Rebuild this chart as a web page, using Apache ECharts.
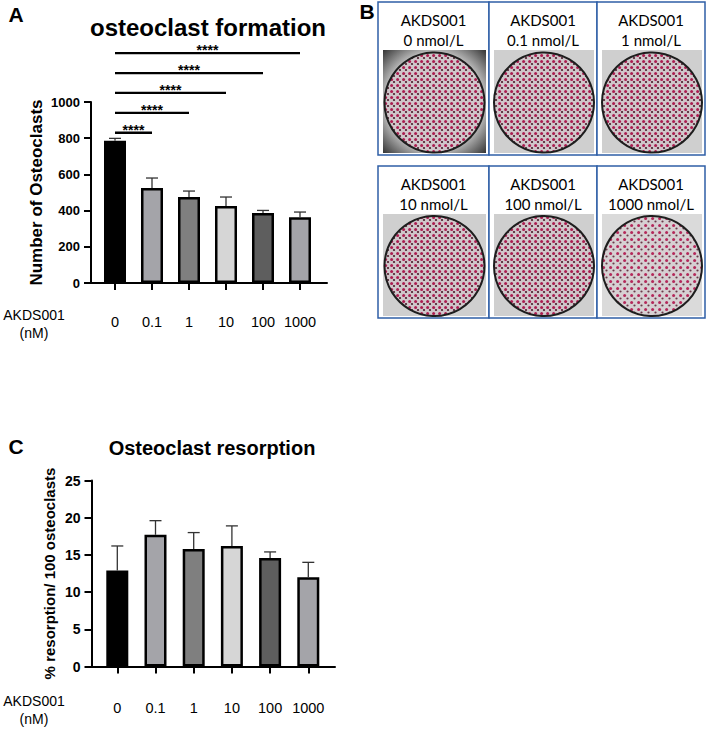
<!DOCTYPE html>
<html>
<head>
    <meta charset="utf-8">
    <title>AKDS001 osteoclasts</title>
    <script src="https://cdn.jsdelivr.net/npm/echarts@6/dist/echarts.min.js"></script>
    <style>
        body { margin: 0; background: #fff; }
    </style>
</head>
<body>
    <div id="main" style="width: 706px;height:729px;"></div>
    <script type="text/javascript">
        // doses on the x axis (nM)
        let doseLabels = ['0', '0.1', '1', '10', '100', '1000'];
        // panel A: number of osteoclasts, mean and SD (upper whisker only)
        let formationMean = [786, 525, 475, 425, 387, 363];
        let formationErr = [13, 55, 33, 50, 14, 29];
        // panel C: % resorption per 100 osteoclasts
        let resorptionMean = [12.9, 17.7, 15.8, 16.2, 14.6, 12.0];
        let resorptionErr = [3.3, 1.9, 2.2, 2.7, 0.8, 2.0];
        // significance brackets: bar 0 vs bar n, drawn at these heights
        let sigTargets = [1, 2, 3, 4, 5];
        let sigLevels = [830, 940, 1050, 1160, 1270];
        let sigText = '****';
        // panel B well captions
        let wellDoses = ['0 nmol/L', '0.1 nmol/L', '1 nmol/L', '10 nmol/L', '100 nmol/L', '1000 nmol/L'];

        let barColors = ['#000000', '#a4a4a9', '#7f7f7f', '#d6d6d6', '#5e5e5e', '#a4a4a9'];
        let FONT = 'Liberation Sans, Arial, sans-serif';

        let myChart = echarts.init(document.getElementById('main'), null, { renderer: 'svg' });

        function barData(vals) {
            return vals.map(function (v, i) {
                return { value: v, itemStyle: { color: barColors[i] } };
            });
        }

        // whisker going up from the bar top, with a cap
        function renderErr(params, api) {
            let i = api.value(0);
            let base = api.coord([i, api.value(1)]);
            let top = api.coord([i, api.value(1) + api.value(2)]);
            let st = { stroke: '#333', lineWidth: 1.3 };
            return {
                type: 'group',
                children: [
                    { type: 'line', shape: { x1: base[0], y1: base[1], x2: top[0], y2: top[1] }, style: st },
                    { type: 'line', shape: { x1: top[0] - 6, y1: top[1], x2: top[0] + 6, y2: top[1] }, style: st }
                ]
            };
        }

        function renderSig(params, api) {
            let p0 = api.coord([0, api.value(1)]);
            let p1 = api.coord([api.value(0), api.value(1)]);
            return {
                type: 'group',
                children: [
                    { type: 'line', shape: { x1: p0[0], y1: p0[1], x2: p1[0], y2: p1[1] },
                      style: { stroke: '#000', lineWidth: 2.3 } },
                    { type: 'text', style: { text: sigText, x: (p0[0] + p1[0]) / 2, y: p0[1] - 3,
                      align: 'center', verticalAlign: 'middle', fontSize: 14, fontWeight: 'bold',
                      fontFamily: FONT, fill: '#000' } }
                ]
            };
        }

        function catAxis(gridIndex, labelMargin) {
            return {
                type: 'category',
                gridIndex: gridIndex,
                data: doseLabels,
                axisLine: { show: false },
                axisTick: { show: true, alignWithLabel: true, length: 7, lineStyle: { color: '#000', width: 2 } },
                axisLabel: { interval: 0, margin: labelMargin, fontSize: 14.5, color: '#000', fontFamily: FONT }
            };
        }

        function lineAxis(gridIndex) {
            return {
                type: 'value', gridIndex: gridIndex, min: 0, max: 1,
                axisLine: { show: true, onZero: false, lineStyle: { color: '#000', width: 2 } },
                axisTick: { show: false }, axisLabel: { show: false }, splitLine: { show: false }
            };
        }

        function valAxis(gridIndex, max, interval, offset, name, nameSize, nameGap, labelSize) {
            return {
                type: 'value', gridIndex: gridIndex, min: 0, max: max, interval: interval, offset: offset,
                name: name, nameLocation: 'middle', nameGap: nameGap,
                nameTextStyle: { fontSize: nameSize, fontWeight: 'bold', color: '#000', fontFamily: FONT },
                axisLine: { show: true, lineStyle: { color: '#000', width: 2 } },
                axisTick: { show: true, length: 7, lineStyle: { color: '#000', width: 2 } },
                axisLabel: { margin: 11, fontSize: labelSize, fontWeight: 700, color: '#000', fontFamily: FONT,
                             formatter: function (v) { return String(v); } },
                splitLine: { show: false }
            };
        }

        // panel B: boxes with captions and a drawn well
        function dots(size, bg, c1, c2) {
            let cv = document.createElement('canvas');
            cv.width = size; cv.height = size;
            let ctx = cv.getContext('2d');
            ctx.fillStyle = bg; ctx.fillRect(0, 0, size, size);
            ctx.fillStyle = c1; ctx.beginPath(); ctx.arc(1.6, 1.6, 1.5, 0, Math.PI * 2); ctx.fill();
            ctx.fillStyle = c2; ctx.beginPath(); ctx.arc(size / 2 + 1, size / 2 + 1, 1.1, 0, Math.PI * 2); ctx.fill();
            return cv;
        }

        let colX = [378, 489, 597, 705];
        let rowY = [[2, 155], [166, 318]];
        let graphics = [];
        wellDoses.forEach(function (d, k) {
            let r = Math.floor(k / 3), c = k % 3;
            let x0 = colX[c], x1 = colX[c + 1], y0 = rowY[r][0], y1 = rowY[r][1];
            let cx = (x0 + x1) / 2;
            let imgBg = '#cfcfcf';
            if (k === 0) {
                imgBg = { type: 'radial', x: 0.5, y: 0.5, r: 0.72, colorStops: [
                    { offset: 0, color: '#d2d2d2' }, { offset: 0.68, color: '#b4b4b4' }, { offset: 1, color: '#2c2c2c' }] };
            }
            if (k === 5) imgBg = '#dadada';
            let pat = k === 5 ? dots(7, '#d6d0d2', '#b4285a', '#6a3a4a') : dots(6, '#d0c6ca', '#ab1d50', '#4a1a2a');
            graphics.push(
                { type: 'rect', shape: { x: x0, y: y0, width: x1 - x0, height: y1 - y0 },
                  style: { fill: '#fff', stroke: '#2f5fa7', lineWidth: 1.5 } },
                { type: 'text', x: cx, y: y0 + 18, style: { text: 'AKDS001', fontSize: 15, fontFamily: 'Lato',
                  fill: '#000', align: 'center', verticalAlign: 'middle' } },
                { type: 'text', x: cx, y: y0 + 38, style: { text: d, fontSize: 15, fontFamily: 'Lato',
                  fill: '#000', align: 'center', verticalAlign: 'middle' } },
                { type: 'rect', shape: { x: x0 + 5, y: y0 + 48, width: x1 - x0 - 8, height: y1 - y0 - 50 },
                  style: { fill: imgBg } },
                { type: 'circle', shape: { cx: cx + 1, cy: (y0 + 48 + y1) / 2, r: 50 },
                  style: { fill: { image: pat, repeat: 'repeat' }, stroke: '#1e1e1e', lineWidth: 2 } }
            );
        });

        // panel letters, titles and the dose caption
        let textStyle = function (t, size, weight) {
            return { text: t, fontSize: size, fontWeight: weight, fontFamily: FONT, fill: '#000',
                     align: 'center', verticalAlign: 'middle', lineHeight: 18 };
        };
        graphics.push(
            { type: 'text', x: 16, y: 14, style: textStyle('A', 21, 'bold') },
            { type: 'text', x: 367, y: 11, style: textStyle('B', 21, 'bold') },
            { type: 'text', x: 16, y: 446, style: textStyle('C', 21, 'bold') },
            { type: 'text', x: 208, y: 27, style: textStyle('osteoclast formation', 24, 'bold') },
            { type: 'text', x: 212, y: 448, style: textStyle('Osteoclast resorption', 20, 'bold') },
            { type: 'text', x: 34, y: 324, style: textStyle('AKDS001\n(nM)', 14, 'normal') },
            { type: 'text', x: 34, y: 710, style: textStyle('AKDS001\n(nM)', 14, 'normal') }
        );

        let option = {
            animation: false,
            grid: [
                { left: 96.5, top: 102, width: 222, height: 181 },
                { left: 91, top: 102, width: 236, height: 181 },
                { left: 98.2, top: 480.5, width: 229.2, height: 186 },
                { left: 91.5, top: 480.5, width: 243.5, height: 186 }
            ],
            xAxis: [catAxis(0, 31), lineAxis(1), catAxis(2, 34), lineAxis(3)],
            yAxis: [
                valAxis(0, 1000, 200, 5.5, 'Number of Osteoclasts', 17, 46, 13),
                { type: 'value', gridIndex: 1, show: false },
                valAxis(2, 25, 5, 6.7, '% resorption/ 100 osteoclasts', 15, 35, 14),
                { type: 'value', gridIndex: 3, show: false }
            ],
            graphic: graphics,
            series: [
                {
                    type: 'bar', xAxisIndex: 0, yAxisIndex: 0, barWidth: 22,
                    itemStyle: { borderColor: '#000', borderWidth: 2.5 },
                    data: barData(formationMean)
                },
                {
                    type: 'custom', xAxisIndex: 0, yAxisIndex: 0, z: 3, renderItem: renderErr,
                    data: formationMean.map(function (v, i) { return [i, v, formationErr[i]]; })
                },
                {
                    type: 'custom', xAxisIndex: 0, yAxisIndex: 0, clip: false, z: 3, renderItem: renderSig,
                    data: sigTargets.map(function (t, k) { return [t, sigLevels[k]]; })
                },
                {
                    type: 'bar', xAxisIndex: 2, yAxisIndex: 2, barWidth: 22,
                    itemStyle: { borderColor: '#000', borderWidth: 2.5 },
                    data: barData(resorptionMean)
                },
                {
                    type: 'custom', xAxisIndex: 2, yAxisIndex: 2, z: 3, renderItem: renderErr,
                    data: resorptionMean.map(function (v, i) { return [i, v, resorptionErr[i]]; })
                }
            ]
        };

        myChart.setOption(option);
    </script>
</body>
</html>
